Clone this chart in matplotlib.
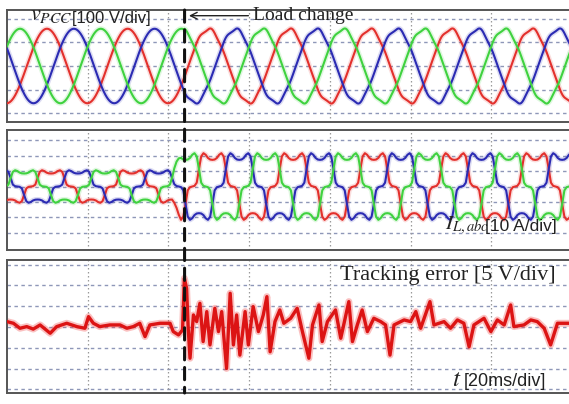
import numpy as np
import matplotlib
matplotlib.use("Agg")
import matplotlib.pyplot as plt
from matplotlib.patches import ConnectionPatch

plt.rcParams["mathtext.fontset"] = "stix"

# ---------------- data ----------------
T_END = 140.0            # ms shown (7 divisions of 20 ms)
T_CHANGE = 44.0          # ms, instant of the load change
F_GRID = 50.0            # Hz
COLORS = {"a": "#e3302c", "b": "#2b2bb3", "c": "#3fd23f"}
PHASE_ORDER = ["a", "b", "c"]          # a leads b leads c by 120 deg
PEAK_A = 9.9                           # ms, time of a-phase voltage peak

# PCC voltage amplitude [div]
V_AMP_PRE = 1.57
V_AMP_POST = 1.55
V_RIPPLE_POST = [(5, 0.035), (7, 0.03)]   # harmonic order, amplitude [div]

# load current: one cycle, sampled every 10 deg from voltage zero crossing [p.u.]
I_SHAPE = [0.00, 0.02, 0.12, 0.55, 0.95, 1.05, 1.00, 0.90, 0.85,
           0.84, 0.85, 0.90, 1.00, 1.05, 0.95, 0.55, 0.12, 0.02,
           0.00, -0.02, -0.12, -0.55, -0.95, -1.05, -1.00, -0.90, -0.85,
           -0.84, -0.85, -0.90, -1.00, -1.05, -0.95, -0.55, -0.12, -0.02]
I_LAG = 1.0              # ms, current lag behind voltage
I_AMP_PRE = 1.0
I_AMP_POST = 2.05
I_STEP = (41.0, 43.0)    # ms, interval over which the current amplitude rises

# tracking error samples (time [ms], value [div])
ERR_T = [0.0, 1.6, 3.2, 4.9, 6.5, 8.2, 10.7, 12.3, 14.8, 17.3, 19.3, 20.2,
         21.4, 23.0, 25.5, 28.0, 29.7, 31.3, 32.9, 34.2, 35.4, 37.9, 40.4,
         41.2, 42.5, 43.5, 43.95, 44.5, 44.9, 45.35, 46.2, 47.0, 47.8, 48.6,
         49.5, 50.3, 51.5, 52.4, 53.2, 54.4, 55.3, 56.1, 56.9, 57.7, 59.0,
         59.8, 61.0, 62.3, 63.5, 64.4, 65.2, 66.4, 67.6, 68.6, 70.3, 71.9,
         73.2, 74.8, 75.7, 77.3, 78.1, 79.4, 81.4, 82.7, 84.7, 85.6, 86.8,
         88.0, 89.3, 90.9, 92.6, 93.8, 94.9, 95.9, 98.4, 100.0, 101.3, 102.5,
         104.8, 105.8, 108.3, 109.9, 111.6, 113.2, 114.5, 115.7, 118.2, 119.9,
         121.5, 123.2, 124.8, 125.6, 128.1, 129.8, 131.4, 133.1, 134.7, 136.4,
         139.3]
ERR_V = [0.26, 0.18, -0.06, 0.02, -0.10, 0.10, -0.30, 0.02, 0.18, 0.02, -0.06,
         0.50, 0.18, 0.02, 0.10, 0.10, -0.06, 0.02, 0.18, -0.46, 0.10, 0.18,
         0.18, -0.22, -0.38, -0.14, 2.34, 1.86, -0.06, -1.50, 0.58, 0.26, 1.14,
         -0.70, 0.74, -0.86, 0.90, -0.22, 0.74, -1.99, 1.62, -0.86, 0.58, -1.35,
         0.74, -0.86, 0.98, -0.22, 0.58, 1.46, -1.19, 0.26, 0.82, 0.18, 0.42,
         0.90, -0.22, -1.50, 0.10, 1.06, -0.70, 0.26, 0.82, -0.54, 1.22, -0.70,
         0.10, 0.82, -0.22, 0.42, 0.26, 0.10, -1.35, 0.10, 0.34, 0.26, 0.74,
         -0.06, 1.22, 0.10, 0.26, -0.06, 0.34, 0.18, -0.95, 0.10, 0.42, -0.22,
         0.34, 0.10, 1.06, 0.02, 0.10, 0.34, 0.26, -0.06, -0.86, 0.18, 0.18]

# ---------------- figure ----------------
W, H = 569, 404
fig = plt.figure(figsize=(W / 100, H / 100), dpi=100)


def px_axes(x0, y0, x1, y1):
    return fig.add_axes([x0 / W, 1 - y1 / H, (x1 - x0) / W, (y1 - y0) / H])


ax1 = px_axes(7, 10, 572, 122)
ax2 = px_axes(7, 130, 572, 250)
ax3 = px_axes(7, 260, 572, 393)

for ax, ylim, ygrid in [(ax1, (-2.36, 2.36), range(-2, 3)),
                        (ax2, (-4.1, 3.65), range(-3, 4)),
                        (ax3, (-3.17, 3.22), range(-3, 4))]:
    ax.set_xlim(0, T_END)
    ax.set_ylim(*ylim)
    ax.set_xticks([])
    ax.set_yticks([])
    for y in ygrid:
        ax.axhline(y, color="#8e97b8", lw=1.0, ls=(0, (2.5, 2.5)), zorder=1)
    for x in np.arange(20, T_END, 20):
        ax.axvline(x, color="#9a9a9a", lw=0.9, ls=(0, (1.2, 2.0)), zorder=1)
    for s in ax.spines.values():
        s.set_color("#555555")
        s.set_linewidth(1.4)


def draw(ax, t, y, color, lw=1.5):
    ax.plot(t, y, color=color, lw=lw + 2.2, alpha=0.16, solid_capstyle="round", zorder=2)
    ax.plot(t, y, color=color, lw=lw, zorder=3)


# PCC voltages
t = np.linspace(0, T_END, 2801)
w = 2 * np.pi * F_GRID / 1000.0
period = 1000.0 / F_GRID
for k, ph in enumerate(PHASE_ORDER):
    tp = PEAK_A + k * period / 3
    amp = np.where(t < T_CHANGE, V_AMP_PRE, V_AMP_POST)
    v = amp * np.cos(w * (t - tp))
    post = t >= T_CHANGE
    for order, a in V_RIPPLE_POST:
        v = v + post * a * np.sin(order * w * (t - tp))
    draw(ax1, t, v, COLORS[ph])

# load currents (periodic shape repeated for each cycle)
theta = np.arange(len(I_SHAPE)) / len(I_SHAPE) * period
shape = np.array(I_SHAPE)
for k, ph in enumerate(PHASE_ORDER):
    t0 = PEAK_A + I_LAG + k * period / 3 - period / 4
    ts = np.concatenate([t0 + c * period + theta for c in range(-2, 9)])
    ys = np.tile(shape, 11)
    blend = np.clip((ts - I_STEP[0]) / (I_STEP[1] - I_STEP[0]), 0, 1)
    amp = I_AMP_PRE + (I_AMP_POST - I_AMP_PRE) * blend
    draw(ax2, ts, ys * amp, COLORS[ph])

# tracking error: wide faint trace under a solid core
ax3.plot(ERR_T, ERR_V, color="#f03030", lw=5.0, alpha=0.3, zorder=2)
ax3.plot(ERR_T, ERR_V, color="#dc1414", lw=2.4, zorder=3)

# load change marker across the three panels
con = ConnectionPatch(xyA=(T_CHANGE, 2.36), coordsA=ax1.transData,
                      xyB=(T_CHANGE, -3.17), coordsB=ax3.transData,
                      color="#111111", lw=2.2, ls=(0, (4, 2.5)), zorder=10)
fig.add_artist(con)

# annotations
ax1.annotate("", xy=(T_CHANGE + 0.4, 2.12), xytext=(T_CHANGE + 16.5, 2.12),
             arrowprops=dict(arrowstyle="->", color="#222222", lw=1.0,
                             mutation_scale=12), zorder=11)
ax1.text(T_CHANGE + 17.0, 2.13, "Load change", family="Liberation Serif",
         fontsize=14, va="center", ha="left", color="#222222", zorder=11)
ax1.text(5.6, 1.95, r"$v_{PCC}$", fontsize=16, va="baseline", ha="left", color="#222222")
ax1.text(16.1, 2.0, "[100 V/div]", family="Liberation Sans", fontsize=12,
         va="center", ha="left", color="#222222")

ax2.text(108.6, -2.75, r"$I_{L,abc}$", fontsize=15, va="baseline", ha="left", color="#222222")
ax2.text(118.4, -2.55, "[10 A/div]", family="Liberation Sans", fontsize=12.5,
         va="center", ha="left", color="#222222")

ax3.text(136.0, 2.26, "Tracking error [5 V/div]", family="Liberation Serif",
         fontsize=16, va="baseline", ha="right", color="#222222")
ax3.text(110.3, -2.85, r"$t$", fontsize=18, va="baseline", ha="left", color="#222222")
ax3.text(113.2, -2.6, "[20ms/div]", family="Liberation Sans", fontsize=13,
         va="center", ha="left", color="#222222")

fig.savefig("out.png", dpi=100)
